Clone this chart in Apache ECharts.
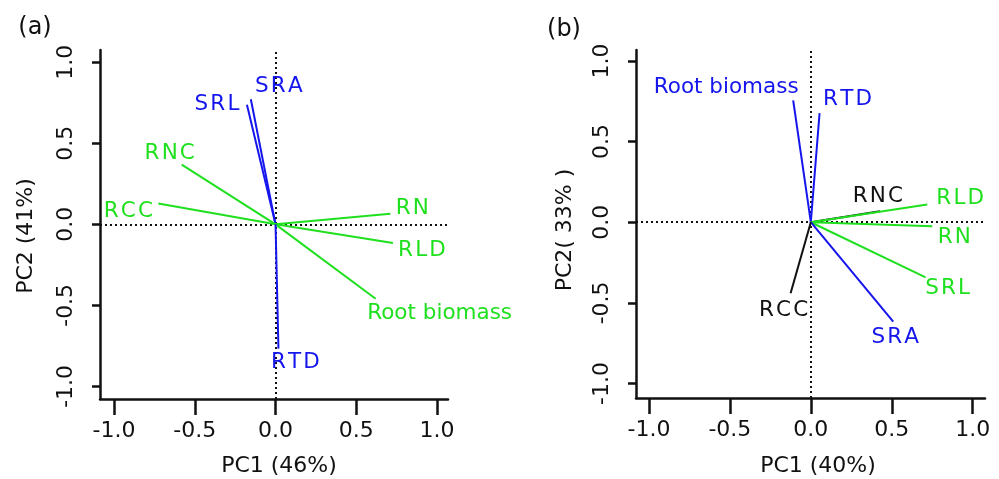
<!DOCTYPE html>
<html>
<head>
<meta charset="utf-8">
<script src="https://cdn.jsdelivr.net/npm/echarts@6/dist/echarts.min.js"></script>
<style>
  html, body { margin: 0; padding: 0; background: #ffffff; }
  #chart { width: 999px; height: 479px; }
</style>
</head>
<body>
<div id="chart"></div>
<script>
// PCA loadings.
// Panel (a)
const varsA  = ['SRA', 'SRL', 'RNC', 'RCC', 'RN', 'RLD', 'Root biomass', 'RTD'];
const pc1A   = [-0.153, -0.177, -0.581, -0.726, 0.711, 0.727, 0.620, 0.018];
const pc2A   = [0.772, 0.738, 0.368, 0.128, 0.066, -0.115, -0.459, -0.767];
const groupA = ['g1', 'g1', 'g2', 'g2', 'g2', 'g2', 'g2', 'g1'];

// Panel (b)
const varsB  = ['Root biomass', 'RTD', 'RNC', 'RLD', 'RN', 'SRL', 'SRA', 'RCC'];
const pc1B   = [-0.109, 0.054, 0.427, 0.719, 0.750, 0.709, 0.509, -0.125];
const pc2B   = [0.756, 0.677, 0.068, 0.110, -0.025, -0.342, -0.617, -0.441];
const groupB = ['g1', 'g1', 'g3', 'g2', 'g2', 'g2', 'g1', 'g3'];

const tickValues = [-1, -0.5, 0, 0.5, 1];
const axisTitles = ['PC1 (46%)', 'PC2 (41%)', 'PC1 (40%)', 'PC2( 33% )'];

// ── styling ──────────────────────────────────────────────────────────
const FONT = 'DejaVu Sans';
const INK = '#111111';
const groupColor = { g1: '#1515ee', g2: '#1fe01f', g3: '#111111' };

// where each label sits relative to its arrow tip (px)
const labelOffA = {
  'SRA': [28, -13], 'SRL': [-30, 0], 'RNC': [-12, -11], 'RCC': [-30, 8],
  'RN': [22, -5], 'RLD': [29, 7], 'Root biomass': [64, 15], 'RTD': [17, 14]
};
const labelOffB = {
  'Root biomass': [-67, -13], 'RTD': [28, -14], 'RNC': [-2, -15], 'RLD': [33, -6],
  'RN': [22, 11], 'SRL': [22, 11], 'SRA': [2, 16], 'RCC': [-7, 17]
};

// R draws the capitals of the labels with a little extra tracking
function spaced(s) {
  return /^[A-Z]+$/.test(s) ? s.split('').join('\u200A') : s;
}

function loadingSeries(idx, names, xs, ys, groups, offsets) {
  return {
    type: 'custom',
    xAxisIndex: idx,
    yAxisIndex: idx,
    clip: false,
    z: 3,
    data: names.map((n, i) => [xs[i], ys[i], i]),
    renderItem: (params, api) => {
      const i = api.value(2);
      const o = api.coord([0, 0]);
      const p = api.coord([api.value(0), api.value(1)]);
      const c = groupColor[groups[i]];
      const off = offsets[names[i]];
      return {
        type: 'group',
        children: [{
          type: 'line',
          shape: { x1: o[0], y1: o[1], x2: p[0], y2: p[1] },
          style: { stroke: c, lineWidth: 2 }
        }, {
          type: 'text',
          x: p[0] + off[0],
          y: p[1] + off[1],
          style: {
            text: spaced(names[i]), fill: c,
            font: '21.5px "' + FONT + '"',
            align: 'center', verticalAlign: 'middle'
          }
        }]
      };
    },
    markLine: {
      silent: true,
      symbol: ['none', 'none'],
      label: { show: false },
      z: 1,
      lineStyle: { color: INK, type: [2, 3], width: 2 },
      data: [{ xAxis: 0 }, { yAxis: 0 }]
    }
  };
}

function xAxisOf(idx, min, max) {
  return {
    gridIndex: idx, type: 'value', min: min, max: max,
    splitLine: { show: false },
    axisLine: { show: true, onZero: false, lineStyle: { color: INK, width: 2.5 } },
    axisTick: { show: true, length: 16, customValues: tickValues, lineStyle: { color: INK, width: 2.5 } },
    axisLabel: {
      customValues: tickValues, formatter: v => v.toFixed(1),
      fontSize: 22, fontFamily: FONT, color: INK, margin: 21
    }
  };
}

function yAxisOf(idx, min, max) {
  return {
    gridIndex: idx, type: 'value', min: min, max: max,
    splitLine: { show: false },
    axisLine: { show: true, onZero: false, lineStyle: { color: INK, width: 2.5 } },
    axisTick: { show: true, length: 8, customValues: tickValues, lineStyle: { color: INK, width: 2.5 } },
    axisLabel: {
      customValues: tickValues, formatter: v => v.toFixed(1), rotate: 90,
      fontSize: 22, fontFamily: FONT, color: INK, margin: 23
    }
  };
}

function textAt(x, y, text, size, rot) {
  return {
    type: 'text', x: x, y: y, rotation: rot || 0,
    style: {
      text: text, fill: INK, font: size + 'px "' + FONT + '"',
      align: 'center', verticalAlign: 'middle'
    }
  };
}

const chart = echarts.init(document.getElementById('chart'));
chart.setOption({
  animation: false,
  backgroundColor: '#ffffff',
  grid: [
    { left: 100, top: 50, width: 348, height: 349 },
    { left: 636, top: 50, width: 349, height: 348 }
  ],
  xAxis: [xAxisOf(0, -1.087, 1.068), xAxisOf(1, -1.08, 1.076)],
  yAxis: [yAxisOf(0, -1.078, 1.076), yAxisOf(1, -1.09, 1.068)],
  series: [
    loadingSeries(0, varsA, pc1A, pc2A, groupA, labelOffA),
    loadingSeries(1, varsB, pc1B, pc2B, groupB, labelOffB)
  ],
  graphic: [
    textAt(35, 28, '(a)', 24),
    textAt(564, 30, '(b)', 24),
    textAt(279, 466, axisTitles[0], 22),
    textAt(26, 236, axisTitles[1], 22, Math.PI / 2),
    textAt(818, 466, axisTitles[2], 22),
    textAt(565, 230, axisTitles[3], 22, Math.PI / 2)
  ]
});
</script>
</body>
</html>
